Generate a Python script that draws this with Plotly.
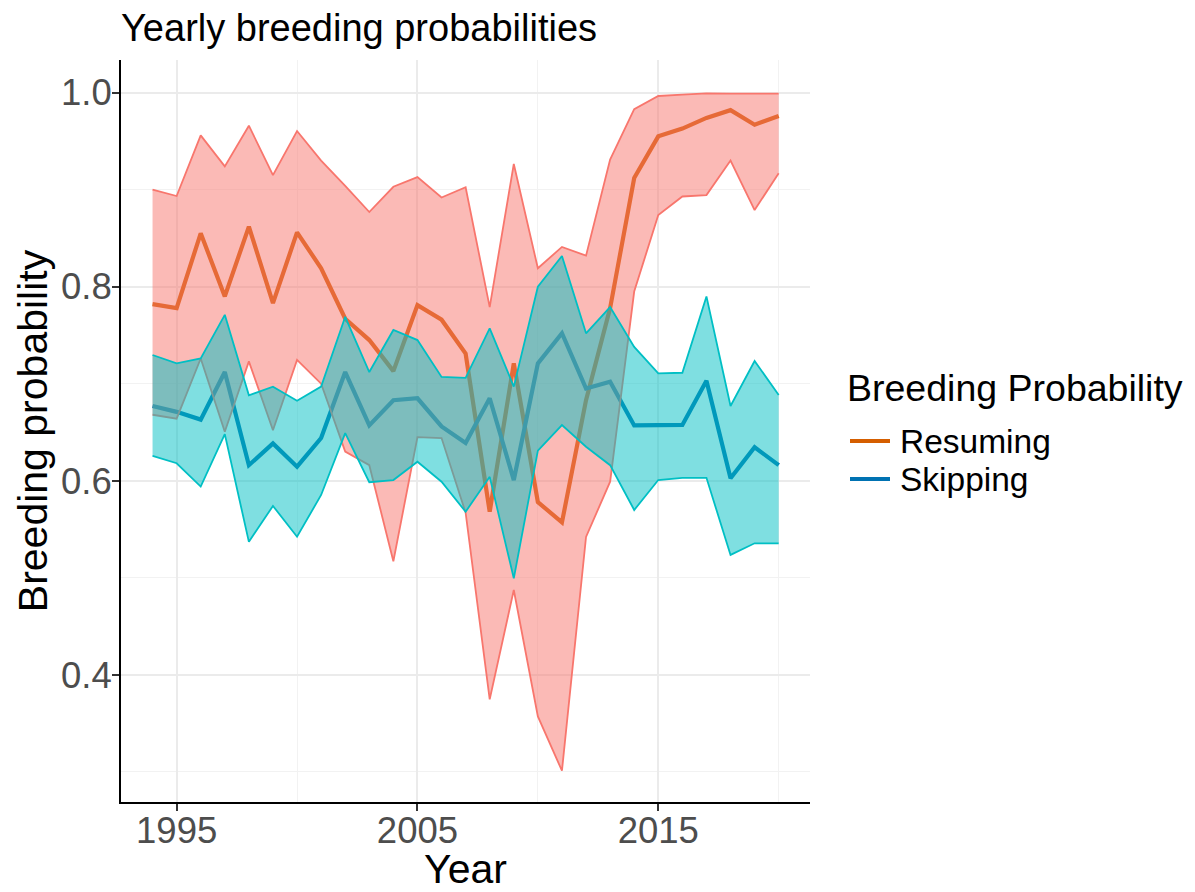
import plotly.graph_objects as go

years = list(range(1994, 2021))

res_mean = [0.782, 0.778, 0.855, 0.790, 0.862, 0.783, 0.856, 0.819, 0.767, 0.745, 0.713,
            0.781, 0.766, 0.731, 0.568, 0.721, 0.578, 0.557, 0.683, 0.778, 0.912, 0.955,
            0.963, 0.974, 0.982, 0.967, 0.976]
res_upper = [0.900, 0.8935, 0.956, 0.924, 0.966, 0.915, 0.9605, 0.930, 0.904, 0.877, 0.903,
             0.913, 0.892, 0.9025, 0.779, 0.9265, 0.819, 0.841, 0.832, 0.931, 0.983, 0.9966,
             0.998, 0.9993, 0.999, 0.999, 0.999]
res_lower = [0.668, 0.664, 0.726, 0.6505, 0.723, 0.652, 0.7245, 0.700, 0.630, 0.616, 0.517,
             0.645, 0.644, 0.567, 0.3746, 0.4873, 0.357, 0.301, 0.542, 0.599, 0.795, 0.874,
             0.893, 0.8945, 0.930, 0.879, 0.917]

skip_mean = [0.677, 0.671, 0.663, 0.712, 0.616, 0.6385, 0.6145, 0.644, 0.712, 0.657, 0.683,
             0.685, 0.656, 0.639, 0.685, 0.6007, 0.721, 0.752, 0.695, 0.702, 0.657, 0.657,
             0.6575, 0.703, 0.6025, 0.6345, 0.616]
skip_upper = [0.7296, 0.721, 0.726, 0.771, 0.688, 0.697, 0.6825, 0.697, 0.769, 0.712, 0.7554,
              0.745, 0.707, 0.706, 0.757, 0.697, 0.800, 0.8316, 0.752, 0.779, 0.738, 0.7107,
              0.7113, 0.790, 0.677, 0.7234, 0.6884]
skip_lower = [0.6255, 0.618, 0.594, 0.648, 0.537, 0.574, 0.5423, 0.5853, 0.649, 0.5984, 0.6007,
              0.6196, 0.599, 0.568, 0.604, 0.4994, 0.631, 0.6574, 0.635, 0.616, 0.5698, 0.6007,
              0.603, 0.603, 0.5235, 0.5355, 0.5355]

series_names = ["Resuming", "Skipping"]
line_colors = ["#D55E00", "#0072B2"]
ribbon_colors = ["#F8766D", "#00BFC4"]
ribbon_fills = ["rgba(248,118,109,0.5)", "rgba(0,191,196,0.5)"]
legend_title = "Breeding Probability"
chart_title = "Yearly breeding probabilities"

FONT = "Liberation Sans, Arial, sans-serif"
W, H = 1195, 892
L, R, T, B = 121, 385, 60, 90
PW, PH = W - L - R, H - T - B

def px_x(px):
    return (px - L) / PW

def px_y(py):
    return (H - B - py) / PH

fig = go.Figure()

means = [res_mean, skip_mean]
uppers = [res_upper, skip_upper]
lowers = [res_lower, skip_lower]

# mean lines first (ribbons drawn on top, as in the reference)
for name, m, c in zip(series_names, means, line_colors):
    fig.add_trace(go.Scatter(x=years, y=m, mode="lines", name=name,
                             line=dict(color=c, width=4.2), showlegend=False))

for up, lo, rc, rf in zip(uppers, lowers, ribbon_colors, ribbon_fills):
    fig.add_trace(go.Scatter(x=years + years[::-1], y=up + lo[::-1], mode="lines",
                             fill="toself", fillcolor=rf, line=dict(width=0),
                             showlegend=False, hoverinfo="skip"))
    fig.add_trace(go.Scatter(x=years, y=up, mode="lines", line=dict(color=rc, width=1.8),
                             showlegend=False))
    fig.add_trace(go.Scatter(x=years, y=lo, mode="lines", line=dict(color=rc, width=1.8),
                             showlegend=False))

# manual legend (title, keys, labels)
annotations = [
    dict(text=chart_title, xref="paper", yref="paper", x=px_x(119), y=px_y(28),
         xanchor="left", yanchor="middle", showarrow=False,
         font=dict(size=38, color="black", family=FONT)),
    dict(text=legend_title, xref="paper", yref="paper", x=px_x(845), y=px_y(388),
         xanchor="left", yanchor="middle", showarrow=False,
         font=dict(size=37.5, color="black", family=FONT)),
]
shapes = []
key_y = [441, 479]
for name, c, ky in zip(series_names, line_colors, key_y):
    shapes.append(dict(type="line", xref="paper", yref="paper",
                       x0=px_x(850), x1=px_x(890), y0=px_y(ky), y1=px_y(ky),
                       line=dict(color=c, width=4.2)))
    annotations.append(dict(text=name, xref="paper", yref="paper", x=px_x(898), y=px_y(ky),
                            xanchor="left", yanchor="middle", showarrow=False,
                            font=dict(size=33.5, color="black", family=FONT)))

grid_major = "#EBEBEB"
grid_minor = "#F2F2F2"

fig.update_layout(
    width=W, height=H,
    paper_bgcolor="white", plot_bgcolor="white",
    margin=dict(l=L, r=R, t=T, b=B, autoexpand=False),
    font=dict(family=FONT, color="black"),
    showlegend=False,
    annotations=annotations,
    shapes=shapes,
    xaxis=dict(range=[1992.69, 2021.3], tickmode="linear", tick0=1995, dtick=10,
               showgrid=True, gridcolor=grid_major, gridwidth=1.5,
               minor=dict(tickmode="linear", tick0=2000, dtick=10, showgrid=True,
                          gridcolor=grid_minor, gridwidth=1.2, ticks=""),
               showline=True, linecolor="black", linewidth=2,
               ticks="outside", ticklen=7, tickwidth=2, tickcolor="#333333",
               ticklabelstandoff=-12,
               tickfont=dict(size=36.5, color="#4D4D4D", family=FONT),
               title=dict(text="Year", font=dict(size=41, color="black", family=FONT),
                          standoff=0),
               automargin=False, zeroline=False),
    yaxis=dict(range=[0.2688, 1.0337], tickmode="linear", tick0=0.4, dtick=0.2,
               tickformat=".1f",
               showgrid=True, gridcolor=grid_major, gridwidth=1.5,
               minor=dict(tickmode="linear", tick0=0.3, dtick=0.2, showgrid=True,
                          gridcolor=grid_minor, gridwidth=1.2, ticks=""),
               showline=True, linecolor="black", linewidth=2,
               ticks="outside", ticklen=7, tickwidth=2, tickcolor="#333333",
               ticklabelstandoff=-7,
               tickfont=dict(size=36.5, color="#4D4D4D", family=FONT),
               title=dict(text="Breeding probability",
                          font=dict(size=41, color="black", family=FONT), standoff=1),
               automargin=False, zeroline=False),
)

fig.write_html("out.html", config={"displayModeBar": False},
               post_script="document.body.style.margin='0';")
